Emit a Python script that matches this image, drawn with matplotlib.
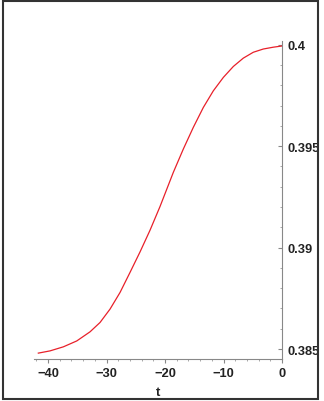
import matplotlib.pyplot as plt
from matplotlib.patches import Rectangle
import numpy as np

plt.rcParams['font.family'] = ['Liberation Sans', 'DejaVu Sans']

# values
t_vals = [-41.66, -39.66, -37.38, -35.09, -32.82, -31.11, -29.40, -27.69,
          -25.98, -24.27, -22.56, -20.85, -18.58, -16.87, -15.16, -13.45,
          -11.74, -10.03, -8.32, -6.62, -4.91, -3.20, -1.49, 0.0]
y_vals = [0.38480, 0.38491, 0.38511, 0.38540, 0.38585, 0.38631, 0.38697,
          0.38779, 0.38878, 0.38979, 0.39086, 0.39203, 0.39371, 0.39486,
          0.39593, 0.39691, 0.39773, 0.39839, 0.39893, 0.39934, 0.39963,
          0.39979, 0.39988, 0.39994]

x_ticks = [-40, -30, -20, -10, 0]
y_ticks = [0.385, 0.39, 0.395, 0.4]
y_labels = ['0.385', '0.39', '0.395', '0.4']

W, H = 324, 402
fig = plt.figure(figsize=(W / 100, H / 100), dpi=100)
ax = fig.add_axes([34 / W, 1 - 360 / H, (282 - 34) / W, (360 - 41.7) / H])

ax.plot(t_vals, y_vals, color='#e8202a', linewidth=0.9)

ax.set_xlim(-42.4, 0)
ax.set_ylim(0.38451, 0.4002)

# maple-like axes: x axis at the bottom, y axis on the right at t = 0
for side in ['top', 'left']:
    ax.spines[side].set_visible(False)
for side in ['bottom', 'right']:
    ax.spines[side].set_color('#888888')
    ax.spines[side].set_linewidth(0.8)

ax.yaxis.tick_right()
ax.set_xticks(x_ticks)
ax.set_xticks(np.arange(-42, 0, 2), minor=True)
ax.set_yticks(y_ticks)
ax.set_yticklabels(y_labels)
ax.set_yticks(np.arange(0.385, 0.4, 0.001), minor=True)

ax.tick_params(axis='x', which='major', direction='out', length=3, color='#888888',
               labelsize=9.3, pad=3, labelcolor='#222222')
ax.tick_params(axis='y', which='major', direction='in', length=3, color='#888888',
               labelsize=9.3, pad=4, labelcolor='#222222')
ax.tick_params(axis='x', which='minor', direction='out', length=1.5, color='#999999')
ax.tick_params(axis='y', which='minor', direction='in', length=1.5, color='#999999')
for lab in ax.get_xticklabels() + ax.get_yticklabels():
    lab.set_fontweight('bold')

ax.set_xlabel('t', fontsize=9.5, fontweight='bold', color='#222222', labelpad=5)
ax.patch.set_visible(False)

# outer frame round the whole picture
fig.add_artist(Rectangle((2.5 / W, 1 - 399.5 / H), 315.5 / W, 397.5 / H,
                         transform=fig.transFigure, fill=False,
                         edgecolor='#333333', linewidth=1.5))

fig.savefig('out.png', dpi=100)
